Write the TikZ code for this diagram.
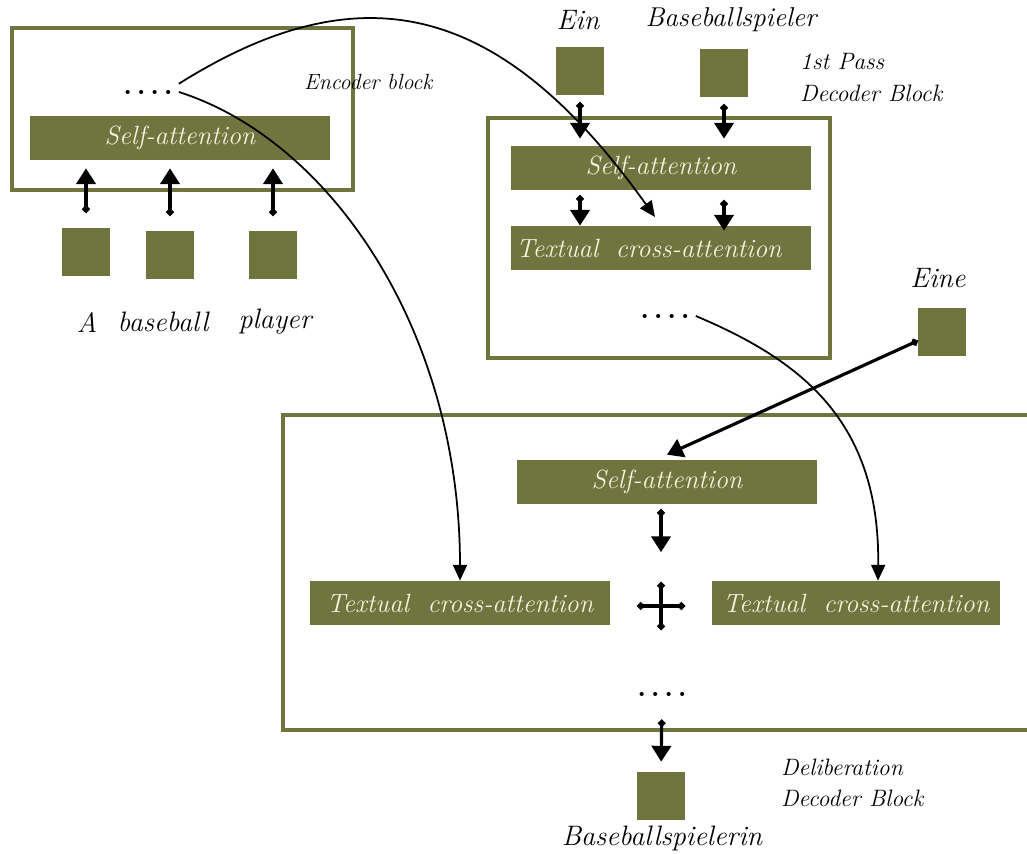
\documentclass[tikz,border=0pt]{standalone}
\usepackage{tikz}
\usetikzlibrary{arrows.meta,positioning}
\definecolor{olivebar}{RGB}{112,117,64}
\definecolor{barfont}{RGB}{246,242,220}

\begin{document}
\begin{tikzpicture}[x=0.02cm, y=-0.02cm,
	bar/.style={fill=olivebar, text=barfont, minimum width=6cm, minimum height=0.88cm, inner sep=0pt, font=\fontsize{15}{18}\selectfont\itshape},
	tok/.style={fill=olivebar, minimum size=0.96cm, inner sep=0pt},
	blk/.style={draw=olivebar, line width=2.2pt},
	word/.style={font=\fontsize{16}{19}\selectfont\itshape},
	dots/.style={font=\fontsize{16}{19}\selectfont\bfseries},
	note/.style={font=\fontsize{13.5}{16}\selectfont\itshape, anchor=west},
	flow/.style={{Circle[length=4pt]}-{Triangle[length=9pt,width=11pt]}, line width=1.8pt},
	skip/.style={-{Triangle[length=9pt,width=8pt]}, line width=1pt}]
	\useasboundingbox (0,0) rectangle (1027,854);
	
	% encoder
	\draw[blk] (12,28) rectangle (353,190);
	\node[bar] (encsa) at (180,138) {Self-attention};
	\node[dots] (encdots) at (148,92) {.\,.\,.\,.};
	\node[tok] (tA) at (86,252) {};
	\node[tok] (tB) at (170,255) {};
	\node[tok] (tC) at (273,255) {};
	\node[word] (wA) at (87,322) {A};
	\node[word] (wB) at (163,322) {baseball};
	\node[word] (wC) at (275,322) {player};
	\node[note, font=\fontsize{12.5}{15}\selectfont\itshape] (encname) at (298,82) {Encoder block};
	\foreach \t in {tA,tB,tC}
		\draw[flow, shorten <=0.3cm, shorten >=0.16cm] (\t.north) -- (\t.north |- encsa.south);
	
	% 1st pass decoder
	\draw[blk] (488,118) rectangle (830,358);
	\node[bar] (p1sa) at (661,168) {Self-attention};
	\node[bar, text width=5.8cm, align=left] (p1ca) at (661,248) {Textual\ \ cross-attention};
	\node[dots] (p1dots) at (665,316) {.\,.\,.\,.};
	\node[tok] (tEin) at (580,71) {};
	\node[tok] (tBsp) at (724,73) {};
	\node[word] (wEin) at (578,20) {Ein};
	\node[word, font=\fontsize{15.5}{18}\selectfont\itshape] (wBsp) at (731,20) {Baseballspieler};
	\node[note] (p1name) at (794,62) {1st Pass};
	\node[note, below=0.05cm of p1name.south west, anchor=north west] (p1name2) {Decoder Block};
	\foreach \t in {tEin,tBsp}
		\draw[flow, shorten <=0.14cm, shorten >=0.14cm] (\t.south) -- (\t.south |- p1sa.north);
	\draw[flow, shorten <=0.1cm] (tEin.south |- p1sa.south) -- (tEin.south |- p1ca.north);
	\draw[flow, shorten <=0.2cm, shorten >=-0.1cm] (tBsp.south |- p1sa.south) -- (tBsp.south |- p1ca.north);
	
	% deliberation decoder
	\draw[blk] (1027,415) -- (283,415) -- (283,730) -- (1027,730);
	\node[bar] (dsa) at (667,482) {Self-attention};
	\node[bar] (dcaL) at (460,603) {Textual\ \ cross-attention};
	\node[bar, minimum width=5.76cm] (dcaR) at (856,603) {Textual\ \ cross-attention};
	\node[minimum size=0.94cm, inner sep=0pt] (plus) at (661,606) {};
	\draw[line width=1.8pt, {Circle[length=4pt]}-{Circle[length=4pt]}] (plus.west) -- (plus.east);
	\draw[line width=1.8pt, {Circle[length=4pt]}-{Circle[length=4pt]}] (plus.north) -- (plus.south);
	\node[dots] (ddots) at (662,694) {.\,.\,.\,.};
	\node[tok] (tOut) at (661,796) {};
	\node[word] (wOut) at (662,838) {Baseballspielerin};
	\node[note] (dname) at (775,767) {Deliberation};
	\node[note, below=0.05cm of dname.south west, anchor=north west] (dname2) {Decoder Block};
	\node[tok] (tEine) at (942,332) {};
	\node[word] (wEine) at (938,278) {Eine};
	\draw[flow, shorten <=0.1cm, shorten >=0.6cm] (plus.north |- dsa.south) -- (plus.north);
	\draw[flow, shorten <=0.35cm, shorten >=0.2cm] (ddots.south) -- (tOut.north);
	\draw[flow] (tEine.200) -- ([yshift=0.1cm]dsa.north);
	
	% skip links
	\draw[skip] (encdots.north east) .. controls (360,-30) and (500,0) .. (655,217);
	\draw[skip] (encdots.east) .. controls (330,140) and (460,330) .. (dcaL.north);
	\draw[skip] (p1dots.east) .. controls (800,360) and (880,420) .. ([xshift=0.44cm]dcaR.north);
\end{tikzpicture}
\end{document}
